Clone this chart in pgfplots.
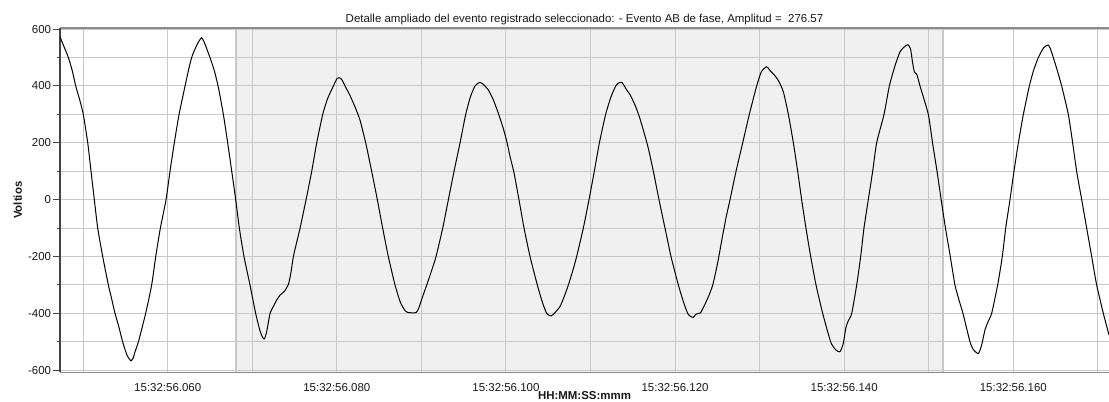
\documentclass[border=0pt]{standalone}
\usepackage{fontspec}
\setmainfont{Liberation Sans}
\usepackage{pgfplots}
\pgfplotsset{compat=1.18}
\definecolor{gridc}{RGB}{200,200,200}
\definecolor{shadec}{RGB}{240,240,240}
\definecolor{edgec}{RGB}{200,200,200}
\definecolor{axc}{RGB}{70,70,70}
\definecolor{frc}{RGB}{140,140,140}
\definecolor{txc}{RGB}{25,25,25}
\begin{document}
\begin{tikzpicture}
\begin{axis}[
  at={(0,0)}, anchor=south west,
  scale only axis, width=786.75pt, height=258.225pt,
  xmin=47.26, xmax=171.32, ymin=-607.1, ymax=603.9,
  set layers,
  axis x line*=box, axis y line*=left,
  x axis line style={draw=frc, line width=1pt},
  y axis line style={draw=axc, line width=1.2pt},
  xtick={60,80,...,160},
  xticklabels={15:32:56.060,15:32:56.080,15:32:56.100,15:32:56.120,15:32:56.140,15:32:56.160},
  minor xtick={50,70,...,170},
  ytick={-600,-400,...,600},
  yticklabels={-600,-400,-200,0,200,400,600},
  minor ytick={-500,-300,...,500},
  grid=both,
  major grid style={draw=gridc, line width=0.75pt},
  minor grid style={draw=gridc, line width=0.75pt},
  tick align=outside,
  xtick style={draw=none},
  ytick style={draw=axc, line width=0.75pt},
  major tick length=5.2pt, minor tick length=2.5pt,
  ticklabel style={font=\fontsize{8.6}{10}\selectfont, text=txc},
  yticklabel style={xshift=2pt},
  title={Detalle ampliado del evento registrado seleccionado: - Evento AB de fase, Amplitud =\ \ 276.57},
  title style={font=\fontsize{8.6}{10}\selectfont, text=txc, at={(axis description cs:0.5,1)}, anchor=base, yshift=-2.1pt, inner sep=0pt},
  xlabel={\bfseries HH:MM:SS:mmm},
  xlabel style={font=\fontsize{8.6}{10}\selectfont, text=txc, at={(axis description cs:0.5,0)}, anchor=base, yshift=-20.3pt, inner sep=0pt},
  ylabel={\bfseries Voltios},
  ylabel style={font=\fontsize{8.6}{10}\selectfont, text=txc, at={(axis description cs:0,0.5)}, anchor=base, yshift=28.5pt, inner sep=0pt},
]
\addplot[draw=none, fill=shadec, on layer=axis background] coordinates {(68.08,-607.1) (68.08,603.9) (151.65,603.9) (151.65,-607.1)} -- cycle;
\addplot[draw=edgec, line width=1.3pt, on layer=axis background] coordinates {(68.08,-607.1) (68.08,603.9)};
\addplot[draw=edgec, line width=1.3pt, on layer=axis background] coordinates {(151.65,-607.1) (151.65,603.9)};
\addplot[black, line width=0.75pt, line join=round, smooth, tension=0.35] coordinates {
(47.26,573) (47.5,555) (47.85,530) (48.25,500) (48.7,455) (49.12,400) (49.6,350) (50.02,300) (50.54,200) (50.93,100) (51.32,0) (51.72,-100) (52.31,-200) (52.98,-300) (53.3,-340) (53.77,-400) (54.2,-445) (54.67,-500) (55.2,-548) (55.66,-567) (55.94,-555) (56.13,-535) (56.53,-500) (57.39,-400) (58.1,-300) (58.58,-200) (59.13,-100) (59.8,0) (60.27,100) (60.78,200) (61.34,300) (62.05,400) (62.45,455) (62.83,500) (63.3,535) (63.7,558) (64.02,570) (64.3,555) (64.6,532) (65.0,500) (65.5,455) (65.99,395) (66.58,300) (67.09,200) (67.57,100) (68.04,0) (68.47,-100) (69.02,-200) (69.73,-300) (70.4,-400) (70.9,-460) (71.2,-483) (71.43,-490) (71.7,-465) (72.1,-400) (72.5,-375) (72.89,-353) (73.3,-335) (73.8,-322) (74.27,-298) (74.55,-260) (74.86,-200)
(75.25,-150) (75.65,-100) (76.36,0) (77.03,100) (77.62,200) (78.33,300) (78.9,355) (79.59,400) (80.0,425) (80.30,429) (80.6,422) (80.97,400) (81.5,370) (82.1,330) (82.74,280) (83.45,195) (84.12,100) (84.79,0) (85.42,-100) (86.09,-200) (86.88,-300) (87.5,-360) (88.06,-390) (88.46,-397) (89.37,-397) (89.7,-380) (90.1,-345) (90.63,-300) (91.2,-250) (91.73,-200) (92.52,-100) (93.19,0) (93.86,100) (94.57,200) (95.24,300) (95.8,362) (96.34,400) (96.93,413) (97.41,403) (97.92,386) (98.51,351) (99.10,304) (99.69,250) (100.1,205) (100.5,150) (100.95,95)
(101.54,0) (102.14,-100) (102.85,-200) (103.71,-300) (104.3,-360) (104.82,-400) (105.33,-409) (105.80,-397) (106.39,-376) (106.9,-340) (107.38,-300) (107.9,-250) (108.36,-200) (109.15,-100) (109.82,0) (110.45,100) (111.05,200) (111.79,300) (112.4,360) (112.98,400) (113.3,410) (113.69,413) (114.0,400) (114.28,386) (114.7,368) (115.26,333) (115.85,285) (116.76,190) (117.43,100) (118.1,0) (118.81,-100) (119.52,-200) (120.39,-300) (121.0,-360) (121.49,-400) (121.8,-410) (122.16,-414) (122.5,-402) (123.0,-398) (123.5,-370) (124.1,-330) (124.5,-295) (125.05,-220) (125.6,-130) (126.05,-60) (126.5,0)
(127.21,100) (128.0,200) (128.78,300) (129.65,400) (130.2,450) (130.83,468) (131.2,455) (131.7,440) (132.2,420) (132.8,380) (133.4,300) (133.99,200) (134.5,100) (134.97,0) (135.48,-100) (136.04,-200) (136.67,-300) (137.46,-400) (138.4,-500) (139.0,-528) (139.5,-535) (139.9,-505) (140.2,-450) (140.5,-425) (140.89,-400) (141.48,-300) (141.95,-200) (142.34,-100) (142.85,0) (143.37,100) (143.84,200) (144.71,300) (145.34,400) (146.0,470) (146.6,520) (147.2,540) (147.55,545) (147.85,530) (148.1,480) (148.3,450) (148.6,440) (148.97,400) (149.95,300)
(150.45,200) (150.98,100) (151.47,0) (151.98,-100) (152.55,-200) (153.1,-300) (153.6,-355) (154.05,-400) (154.88,-500) (155.3,-528) (155.87,-541) (156.26,-511) (156.65,-458) (157.0,-430) (157.44,-400) (158.15,-300) (158.7,-200) (159.1,-100) (159.61,0) (160.08,100) (160.6,200) (161.19,300) (161.9,400) (162.4,455) (162.96,500) (163.6,535) (164.14,544) (164.4,530) (164.73,500) (165.2,455) (165.72,400) (166.51,300) (167.02,200) (167.49,100) (168.09,0) (168.68,-100) (169.27,-200) (169.86,-300) (170.65,-400) (171.32,-476)
};
\end{axis}
\pgfresetboundingbox
\useasboundingbox (-45pt,-21.525pt) rectangle (786.75pt,279.225pt);
\end{tikzpicture}
\end{document}
